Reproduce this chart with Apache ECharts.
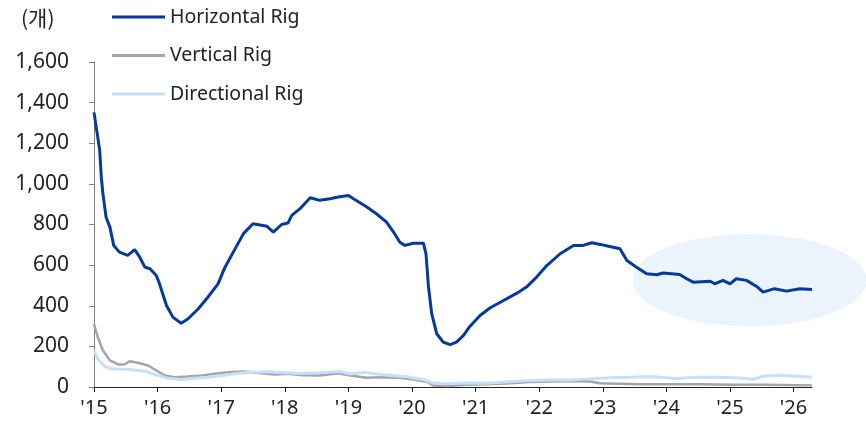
<!DOCTYPE html>
<html>
<head>
<meta charset="utf-8">
<script src="https://cdn.jsdelivr.net/npm/echarts@6/dist/echarts.min.js"></script>
<style>
  html, body { margin: 0; padding: 0; background: #fff; }
  #chart { width: 866px; height: 425px; }
</style>
</head>
<body>
<div id="chart"></div>
<script>
// US rig counts by drilling type (decimal year, rig count)
const yearTicks = [2015, 2016, 2017, 2018, 2019, 2020, 2021, 2022, 2023, 2024, 2025, 2026];

const horizontalYears = [2015.00, 2015.09, 2015.115, 2015.14, 2015.19, 2015.25, 2015.31, 2015.40, 2015.53, 2015.64, 2015.72, 2015.80, 2015.88, 2015.98, 2016.03, 2016.08, 2016.14, 2016.24, 2016.37, 2016.48, 2016.64, 2016.79, 2016.95, 2017.06, 2017.19, 2017.35, 2017.50, 2017.72, 2017.82, 2017.95, 2018.05, 2018.11, 2018.24, 2018.40, 2018.55, 2018.71, 2018.84, 2019.00, 2019.08, 2019.29, 2019.44, 2019.60, 2019.71, 2019.81, 2019.89, 2020.02, 2020.13, 2020.18, 2020.22, 2020.26, 2020.31, 2020.39, 2020.49, 2020.60, 2020.70, 2020.81, 2020.91, 2021.07, 2021.23, 2021.44, 2021.65, 2021.80, 2021.96, 2022.12, 2022.33, 2022.54, 2022.69, 2022.83, 2022.96, 2023.11, 2023.27, 2023.38, 2023.53, 2023.69, 2023.85, 2023.95, 2024.21, 2024.32, 2024.42, 2024.69, 2024.76, 2024.89, 2025.00, 2025.10, 2025.26, 2025.42, 2025.52, 2025.70, 2025.89, 2026.10, 2026.29];
const horizontalRigs = [1352, 1165, 1033, 953, 836, 787, 697, 664, 648, 676, 639, 590, 582, 549, 508, 459, 401, 344, 314, 336, 385, 442, 508, 590, 664, 755, 804, 791, 763, 800, 807, 845, 878, 932, 919, 927, 935, 943, 927, 886, 853, 812, 763, 713, 697, 708, 708, 708, 656, 492, 361, 262, 221, 209, 221, 254, 298, 352, 390, 426, 462, 492, 541, 598, 656, 697, 697, 710, 702, 692, 681, 623, 590, 558, 553, 561, 554, 533, 516, 521, 508, 525, 508, 533, 525, 495, 467, 484, 472, 484, 480];

const verticalYears = [2015.00, 2015.06, 2015.14, 2015.25, 2015.38, 2015.48, 2015.56, 2015.69, 2015.85, 2015.98, 2016.11, 2016.27, 2016.48, 2016.69, 2016.90, 2017.11, 2017.37, 2017.63, 2017.84, 2018.05, 2018.29, 2018.55, 2018.84, 2019.03, 2019.29, 2019.50, 2019.81, 2020.02, 2020.23, 2020.34, 2020.55, 2020.86, 2021.17, 2021.54, 2021.86, 2022.17, 2022.48, 2022.80, 2022.96, 2023.27, 2023.58, 2024.00, 2024.52, 2025.05, 2025.58, 2026.29];
const verticalRigs = [310, 245, 180, 131, 111, 111, 127, 119, 106, 81, 57, 48, 52, 57, 65, 73, 76, 68, 62, 65, 58, 57, 68, 57, 45, 48, 45, 37, 26, 7, 5, 11, 13, 18, 24, 27, 30, 27, 18, 16, 14, 14, 14, 11, 11, 8];

const directionalYears = [2015.00, 2015.06, 2015.17, 2015.27, 2015.43, 2015.59, 2015.80, 2015.95, 2016.16, 2016.37, 2016.58, 2016.79, 2017.00, 2017.21, 2017.42, 2017.74, 2018.00, 2018.24, 2018.55, 2018.87, 2019.03, 2019.26, 2019.50, 2019.92, 2020.18, 2020.31, 2020.49, 2020.86, 2021.17, 2021.59, 2021.86, 2022.17, 2022.48, 2022.80, 2023.11, 2023.42, 2023.74, 2024.16, 2024.47, 2024.79, 2025.10, 2025.37, 2025.52, 2025.79, 2026.05, 2026.29];
const directionalRigs = [180, 139, 101, 90, 88, 85, 78, 62, 43, 37, 43, 48, 55, 65, 71, 75, 70, 67, 70, 76, 64, 72, 62, 50, 37, 21, 16, 20, 18, 27, 32, 35, 35, 40, 45, 48, 52, 42, 48, 48, 45, 38, 53, 58, 53, 48];

// highlighted recent period (centre in data units)
const focusCenter = [2025.31, 525];

const pairs = (xs, ys) => xs.map((x, i) => [x, ys[i]]);
const FONT = '"Noto Sans", "Noto Sans CJK KR", sans-serif';
const CJK_FONT = '"Noto Sans CJK KR", sans-serif';

const chart = echarts.init(document.getElementById('chart'), null, { renderer: 'canvas' });

const option = {
  animation: false,
  textStyle: { fontFamily: FONT },
  title: {
    text: '(개)',
    left: 16, top: 3,
    textStyle: { fontFamily: CJK_FONT, fontSize: 21, fontWeight: 'normal', color: '#222' }
  },
  legend: {
    orient: 'vertical',
    left: 112, top: 7,
    padding: 0,
    icon: 'rect',
    itemWidth: 53, itemHeight: 3,
    itemGap: 18.5,
    textStyle: { fontFamily: FONT, fontSize: 19.5, color: '#222', lineHeight: 20 },
    data: ['Horizontal Rig', 'Vertical Rig', 'Directional Rig']
  },
  grid: { left: 94, right: 54, top: 62, bottom: 38, containLabel: false },
  xAxis: {
    type: 'value',
    min: 2015,
    max: horizontalYears[horizontalYears.length - 1],
    interval: 1,
    splitLine: { show: false },
    axisLine: { show: true, onZero: false, lineStyle: { color: '#222', width: 1 } },
    axisTick: { show: true, length: 5, lineStyle: { color: '#222' }, customValues: yearTicks },
    axisLabel: {
      customValues: yearTicks,
      margin: 11,
      fontFamily: FONT, fontSize: 20, color: '#222',
      formatter: v => "'" + String(Math.round(v)).slice(2)
    }
  },
  yAxis: {
    type: 'value',
    min: 0, max: 1600, interval: 200,
    splitLine: { show: false },
    axisLine: { show: true, lineStyle: { color: '#7f7f7f', width: 1 } },
    axisTick: { show: true, length: 5, lineStyle: { color: '#7f7f7f' } },
    axisLabel: {
      margin: 25,
      fontFamily: FONT, fontSize: 21, color: '#222',
      formatter: v => v.toLocaleString('en-US')
    }
  },
  series: [
    {
      name: 'Horizontal Rig', type: 'line', showSymbol: false, z: 5,
      lineStyle: { color: '#053a9c', width: 3 }, itemStyle: { color: '#053a9c' },
      data: pairs(horizontalYears, horizontalRigs)
    },
    {
      name: 'Vertical Rig', type: 'line', showSymbol: false, z: 3,
      lineStyle: { color: '#a5a5a5', width: 2.5 }, itemStyle: { color: '#a5a5a5' },
      data: pairs(verticalYears, verticalRigs)
    },
    {
      name: 'Directional Rig', type: 'line', showSymbol: false, z: 4,
      lineStyle: { color: '#c4e0fb', width: 3 }, itemStyle: { color: '#c4e0fb' },
      data: pairs(directionalYears, directionalRigs)
    }
  ]
};

chart.setOption(option);

// soft highlight ellipse around the recent period
const c = chart.convertToPixel({ gridIndex: 0 }, focusCenter);
chart.setOption({
  graphic: [{
    type: 'ellipse',
    z: 1,
    silent: true,
    shape: { cx: c[0], cy: c[1], rx: 117, ry: 46 },
    style: { fill: '#ebf3fd' }
  }]
});
</script>
</body>
</html>
